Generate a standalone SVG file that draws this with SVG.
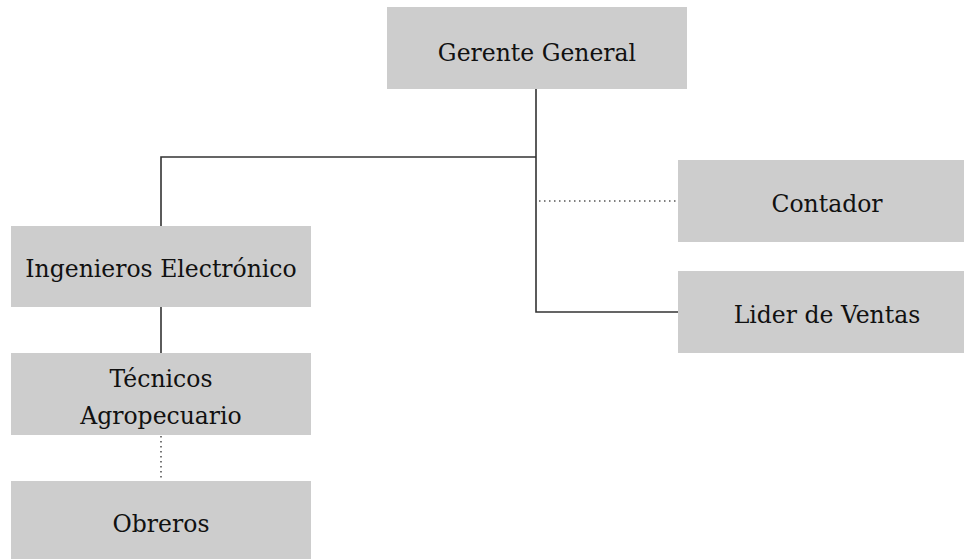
<svg xmlns="http://www.w3.org/2000/svg" width="964" height="559" viewBox="0 0 964 559">
<style>
.box{fill:#cdcdcd}
.t{font-family:'DejaVu Serif','Liberation Serif',serif;font-size:23.5px;fill:#111;text-anchor:middle}
.ln{stroke:#333;stroke-width:1.6;fill:none}
.dt{stroke:#555;stroke-width:1.6;fill:none;stroke-dasharray:1.5 3.5}
</style>
<rect width="964" height="559" fill="#fff"/>
<g id="connectors">
<polyline class="ln" points="536,89 536,312 678,312"/>
<polyline class="ln" points="536,157 161,157 161,226"/>
<line class="dt" x1="539" y1="201" x2="678" y2="201"/>
<line class="ln" x1="161" y1="307" x2="161" y2="353"/>
<line class="dt" x1="161" y1="436" x2="161" y2="479"/>
</g>
<g id="gerente"><rect class="box" x="387" y="7" width="300" height="82"/><text class="t" x="537" y="61">Gerente General</text></g>
<g id="ingenieros"><rect class="box" x="11" y="226" width="300" height="81"/><text class="t" x="161" y="277">Ingenieros Electrónico</text></g>
<g id="contador"><rect class="box" x="678" y="160" width="300" height="82"/><text class="t" x="827" y="212">Contador</text></g>
<g id="lider"><rect class="box" x="678" y="271" width="300" height="82"/><text class="t" x="827" y="323">Lider de Ventas</text></g>
<g id="tecnicos"><rect class="box" x="11" y="353" width="300" height="82"/><text class="t" x="161" y="387">Técnicos</text><text class="t" x="161" y="424">Agropecuario</text></g>
<g id="obreros"><rect class="box" x="11" y="481" width="300" height="82"/><text class="t" x="161" y="532">Obreros</text></g>
</svg>
